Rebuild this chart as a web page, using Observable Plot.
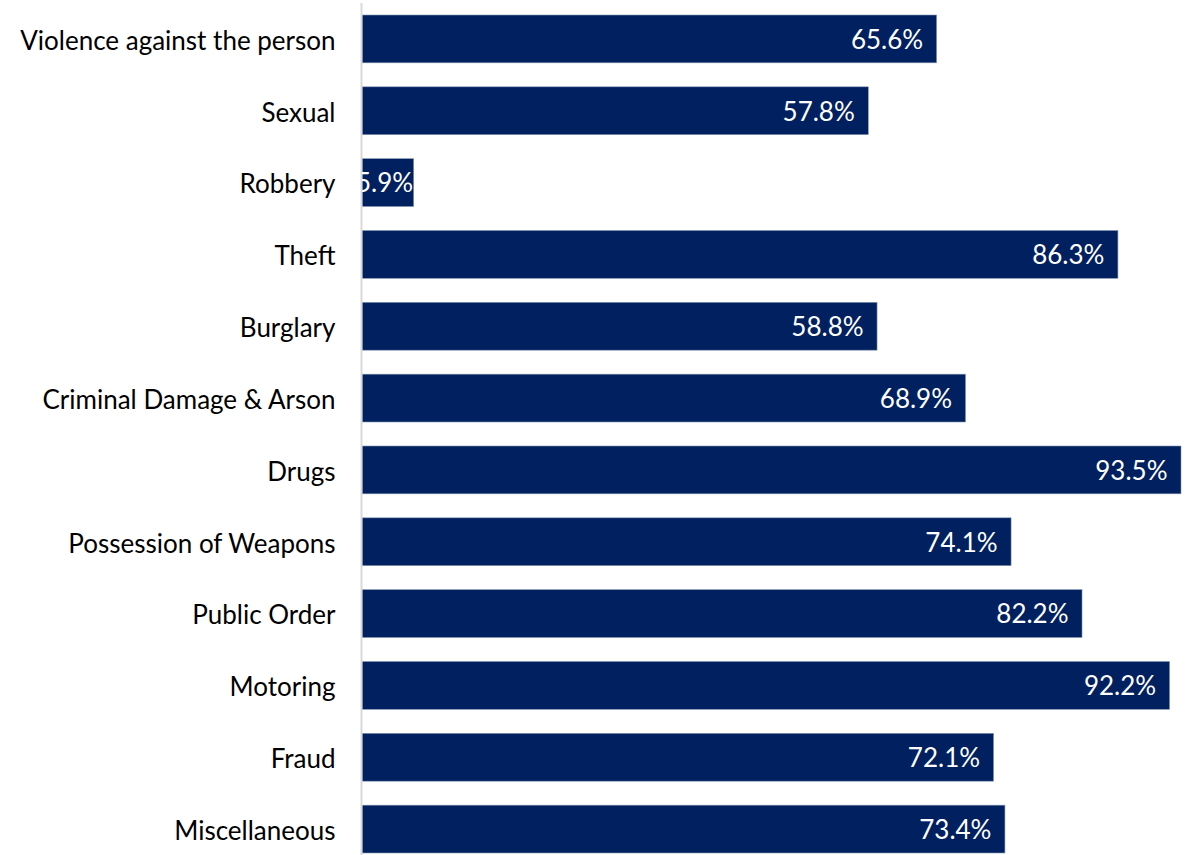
<!DOCTYPE html>
<html>
<head>
<meta charset="utf-8">
<script src="https://cdn.jsdelivr.net/npm/d3@7"></script>
<script src="https://cdn.jsdelivr.net/npm/@observablehq/plot@0.6"></script>
<style>
  html, body { margin: 0; padding: 0; background: #fff; }
  #chart svg { display: block; }
</style>
</head>
<body>
<div id="chart"></div>
<script>
const categories = [
  "Violence against the person", "Sexual", "Robbery", "Theft", "Burglary",
  "Criminal Damage & Arson", "Drugs", "Possession of Weapons", "Public Order",
  "Motoring", "Fraud", "Miscellaneous"
];
const values = [65.6, 57.8, 5.9, 86.3, 58.8, 68.9, 93.5, 74.1, 82.2, 92.2, 72.1, 73.4];

const data = categories.map((c, i) => ({category: c, value: values[i]}));
const fmt = v => v.toFixed(1) + "%";
const FONT = "Lato, 'Open Sans', sans-serif";

const chart = Plot.plot({
  width: 1188,
  height: 855,
  marginLeft: 362,
  marginRight: 7,
  marginTop: 0,
  marginBottom: 0,
  style: {fontFamily: FONT, background: "#fff"},
  x: {type: "linear", domain: [0, 93.5], axis: null},
  y: {type: "band", domain: categories, range: [3, 865], padding: 0, round: false, axis: null},
  marks: [
    Plot.barX(data, {
      x: "value", y: "category",
      fill: "#002060", stroke: "#8497b0", strokeWidth: 0.6,
      insetTop: 12, insetBottom: 12
    }),
    Plot.ruleX([0], {stroke: "#d9d9d9", strokeWidth: 2, dx: -1, insetTop: 3}),
    Plot.text(data, {
      x: 0, y: "category", text: "category",
      textAnchor: "end", dx: -27, dy: 2, fontSize: 26, fill: "#000"
    }),
    Plot.text(data.filter(d => d.value >= 10), {
      x: "value", y: "category", text: d => fmt(d.value),
      textAnchor: "end", dx: -14, dy: 1, fontSize: 26, fill: "#fff"
    }),
    Plot.text(data.filter(d => d.value < 10), {
      x: "value", y: "category", text: d => fmt(d.value),
      textAnchor: "end", dx: -1, dy: 1, fontSize: 26, fill: "#fff", clip: "frame"
    })
  ]
});
document.getElementById("chart").appendChild(chart);
</script>
</body>
</html>
